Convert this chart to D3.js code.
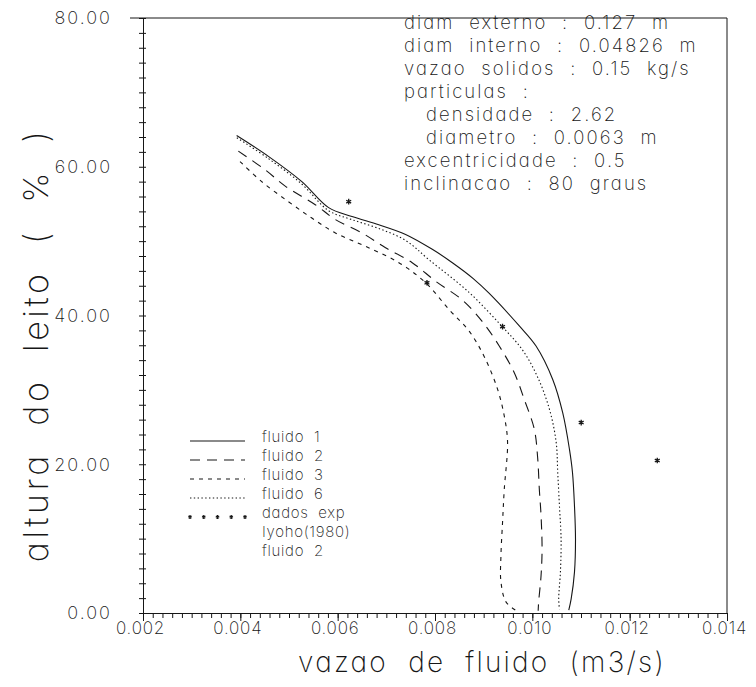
<!DOCTYPE html>
<html>
<head>
<meta charset="utf-8">
<script src="https://cdn.jsdelivr.net/npm/d3@7"></script>
<style>
  html, body { margin: 0; padding: 0; background: #fff; }
  svg { display: block; }
  text {
    font-family: Inter, "DejaVu Sans", sans-serif;
    font-weight: 200;
    fill: #161616;
    font-feature-settings: "cv11" 1;
    white-space: pre;
  }
</style>
</head>
<body>
<svg id="chart" width="756" height="687"></svg>
<script>
// Model profiles: [vazao de fluido (m3/s), altura do leito (%)]
const fluido1 = [
  [0.003924, 64.2], [0.004577, 61.4], [0.005264, 58.0], [0.005814, 54.5],
  [0.006295, 53.3], [0.006845, 52.2], [0.007396, 50.9], [0.007944, 48.9],
  [0.008357, 47.1], [0.008780, 45.0], [0.009110, 43.0], [0.009732, 38.6],
  [0.010076, 35.9], [0.010419, 31.4], [0.010625, 26.9], [0.010763, 22.0],
  [0.010825, 18.9], [0.010866, 14.4], [0.010887, 9.9], [0.010866, 5.5],
  [0.010798, 1.9], [0.010749, 0.4]
];
const fluido2 = [
  [0.003959, 62.1], [0.004509, 59.6], [0.004922, 57.4], [0.005540, 54.9],
  [0.005953, 52.9], [0.006501, 51.1], [0.006984, 49.1], [0.007532, 47.1],
  [0.008014, 44.6], [0.008557, 42.1], [0.008969, 39.2], [0.009320, 35.9],
  [0.009629, 32.3], [0.009835, 28.7], [0.010041, 24.7], [0.010109, 20.9],
  [0.010144, 16.6], [0.010179, 13.1], [0.010200, 8.6], [0.010179, 5.0],
  [0.010130, 1.5], [0.010120, 0.3]
];
const fluido3 = [
  [0.003994, 60.7], [0.004439, 58.0], [0.004990, 55.3], [0.005470, 53.1],
  [0.005953, 51.1], [0.006571, 49.3], [0.007258, 47.1], [0.007808, 44.4],
  [0.008289, 40.8], [0.008701, 37.9], [0.009010, 34.5], [0.009285, 30.1],
  [0.009423, 26.5], [0.009491, 23.0], [0.009423, 16.6], [0.009388, 12.2],
  [0.009355, 7.7], [0.009355, 4.2], [0.009458, 1.5], [0.009650, 0.4]
];
const fluido6 = [
  [0.003928, 63.9], [0.004577, 61.1], [0.005258, 57.7], [0.005814, 54.1],
  [0.006289, 52.9], [0.006845, 51.7], [0.007396, 50.1], [0.007876, 47.5],
  [0.008701, 43.1], [0.009381, 38.5], [0.009794, 35.4], [0.010103, 31.8],
  [0.010351, 27.4], [0.010489, 23.0], [0.010522, 18.9], [0.010557, 14.4],
  [0.010591, 9.9], [0.010577, 5.5], [0.010542, 1.9], [0.010557, 0.5]
];
// Experimental data, Iyoho (1980), fluido 2
const dadosExp = [
  [0.006227, 55.3], [0.007835, 44.4], [0.009388, 38.5],
  [0.011004, 25.6], [0.012567, 20.5]
];

const xTicks = [0.002, 0.004, 0.006, 0.008, 0.010, 0.012, 0.014];
const yTicks = [0, 20, 40, 60, 80];
const xTitle = "vazao  de  fluido  (m3/s)";
const yTitle = "altura  do  leito  (  %  )";
const legendLabels = ["fluido  1", "fluido  2", "fluido  3", "fluido  6",
                      "dados  exp", "Iyoho(1980)", "fluido  2"];
const infoLines = [
  "diam  externo  :  0.127  m",
  "diam  interno  :  0.04826  m",
  "vazao  solidos  :  0.15  kg/s",
  "particulas  :",
  "   densidade  :  2.62",
  "   diametro  :  0.0063  m",
  "excentricidade  :  0.5",
  "inclinacao  :  80  graus"
];

const series = [
  { data: fluido1, dash: null },
  { data: fluido2, dash: "10,7" },
  { data: fluido3, dash: "4,5" },
  { data: fluido6, dash: "1.4,2.4" }
];

const svg = d3.select("#chart");
const ink = "#161616";

const x = d3.scaleLinear().domain([0.002, 0.014]).range([143, 727]);
const y = d3.scaleLinear().domain([0, 80]).range([613, 18]);

// frame: top and right borders
svg.append("line")
  .attr("x1", x.range()[0] - 13).attr("x2", x.range()[1])
  .attr("y1", y.range()[1]).attr("y2", y.range()[1])
  .attr("stroke", ink).attr("stroke-width", 1);
svg.append("line")
  .attr("x1", x.range()[1]).attr("x2", x.range()[1])
  .attr("y1", y.range()[1]).attr("y2", y.range()[0])
  .attr("stroke", ink).attr("stroke-width", 1);

// x axis: minor ticks hanging below, longer major ticks, labels
const xMinor = d3.range(0, 61).map(i => +(0.002 + i * 0.0002).toFixed(4));
const gx = svg.append("g").attr("transform", `translate(0,${y(0)})`);
gx.call(d3.axisBottom(x).tickValues(xMinor).tickSize(5).tickSizeOuter(0).tickFormat(""));
gx.append("g").call(d3.axisBottom(x).tickValues(xTicks).tickSize(8).tickFormat(""))
  .select(".domain").remove();
gx.append("g").call(d3.axisBottom(x).tickValues(xTicks).tickSize(0).tickPadding(9)
    .tickFormat(d3.format(".3f")))
  .call(g => g.select(".domain").remove())
  .selectAll("text")
  .attr("dx", -3)
  .style("font-size", "17px").style("letter-spacing", "0.8px");
gx.selectAll("path, line").attr("stroke", ink).attr("stroke-width", 1);

// y axis: short ticks crossing the axis every 2 %, labels every 20 %
const yMinor = d3.range(0, 41).map(i => i * 2);
const gy = svg.append("g").attr("transform", `translate(${x(0.002)},0)`);
gy.call(d3.axisLeft(y).tickValues(yMinor).tickSize(4).tickSizeOuter(0).tickFormat(""));
gy.append("g").call(d3.axisRight(y).tickValues(yMinor).tickSize(3).tickFormat(""))
  .select(".domain").remove();
gy.append("g").call(d3.axisLeft(y).tickValues(yTicks).tickSize(0).tickPadding(31)
    .tickFormat(d3.format(".2f")))
  .call(g => g.select(".domain").remove())
  .selectAll("text")
  .style("font-size", "18px").style("letter-spacing", "2px");
gy.selectAll("path, line").attr("stroke", ink).attr("stroke-width", 1);

// curves
const line = d3.line().x(d => x(d[0])).y(d => y(d[1])).curve(d3.curveCatmullRom.alpha(0.5));
series.forEach(s => {
  svg.append("path")
    .datum(s.data)
    .attr("d", line)
    .attr("fill", "none")
    .attr("stroke", ink)
    .attr("stroke-width", 1.1)
    .attr("stroke-dasharray", s.dash);
});

// experimental points
const star = d3.symbol().type(d3.symbolAsterisk).size(22);
svg.append("g").selectAll("path")
  .data(dadosExp)
  .join("path")
  .attr("d", star)
  .attr("transform", d => `translate(${x(d[0])},${y(d[1])})`)
  .attr("fill", "none").attr("stroke", ink).attr("stroke-width", 1.3);

// legend
const legend = svg.append("g");
const lgX0 = 190, lgX1 = 245, lgTx = 262, lgY0 = 437, lgStep = 19;
legendLabels.forEach((lab, i) => {
  const cy = lgY0 + i * lgStep;
  legend.append("text")
    .attr("x", lgTx).attr("y", cy).attr("dy", "0.35em")
    .style("font-size", "15px").style("letter-spacing", "0.7px")
    .text(lab);
  if (i < series.length) {
    legend.append("line")
      .attr("x1", lgX0).attr("x2", lgX1)
      .attr("y1", cy + 4).attr("y2", cy + 4)
      .attr("stroke", ink).attr("stroke-width", 1.1)
      .attr("stroke-dasharray", series[i].dash);
  } else if (i === series.length) {
    legend.selectAll(null)
      .data(d3.range(5))
      .join("path")
      .attr("d", d3.symbol().type(d3.symbolAsterisk).size(10))
      .attr("transform", k => `translate(${lgX0 + k * (lgX1 - lgX0) / 4},${cy + 4})`)
      .attr("fill", "none").attr("stroke", ink).attr("stroke-width", 1.2);
  }
});

// parameter block
const info = svg.append("g");
infoLines.forEach((t, i) => {
  info.append("text")
    .attr("x", 404).attr("y", 23 + i * 22.9).attr("dy", "0.35em")
    .style("font-size", "18.5px").style("letter-spacing", "2.1px")
    .text(t);
});

// axis titles
svg.append("text")
  .attr("x", 482).attr("y", 672)
  .attr("text-anchor", "middle")
  .style("font-size", "28px").style("letter-spacing", "2.2px")
  .text(xTitle);
svg.append("text")
  .attr("transform", "translate(48,345) rotate(-90)")
  .attr("text-anchor", "middle")
  .style("font-size", "34px").style("letter-spacing", "3.6px")
  .text(yTitle);
</script>
</body>
</html>
